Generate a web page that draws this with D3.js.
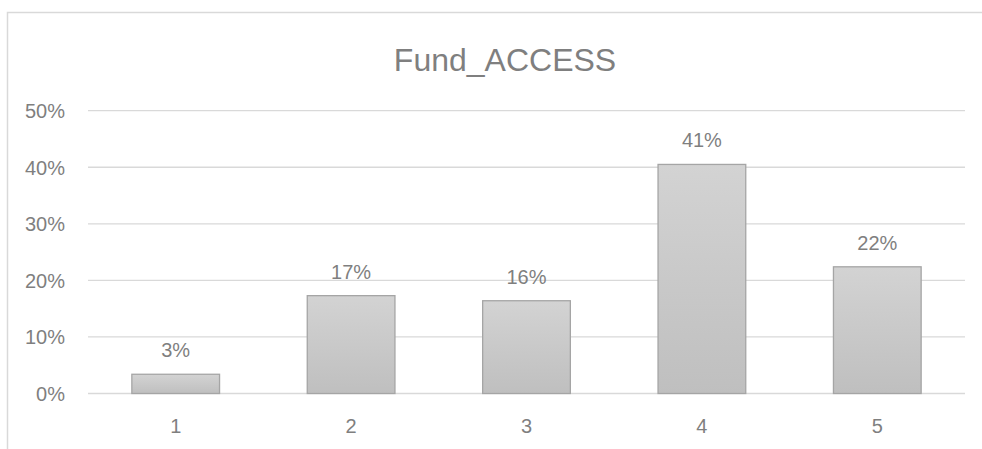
<!DOCTYPE html>
<html><head><meta charset="utf-8">
<script src="https://cdn.jsdelivr.net/npm/d3@7"></script>
<style>body{margin:0;background:#fff}svg{display:block}</style>
</head><body>
<svg id="c" width="982" height="449"></svg>
<script>
const title = "Fund_ACCESS";
const categories = ["1","2","3","4","5"];
const values = [0.034, 0.173, 0.164, 0.405, 0.224];
const labels = ["3%","17%","16%","41%","22%"];
const yTicks = [0, 0.1, 0.2, 0.3, 0.4, 0.5];

const svg = d3.select("#c");
const font = "'Liberation Sans', Arial, sans-serif";
const txt = "#7f7f7f";

const defs = svg.append("defs");
const g = defs.append("linearGradient").attr("id","bg").attr("x1",0).attr("y1",0).attr("x2",0).attr("y2",1);
g.append("stop").attr("offset","0%").attr("stop-color","#d3d3d3");
g.append("stop").attr("offset","100%").attr("stop-color","#bfbfbf");

// chart border
svg.append("rect").attr("x",7.5).attr("y",12.5).attr("width",1000).attr("height",500)
  .attr("fill","#fff").attr("stroke","#d9d9d9").attr("stroke-width",1.5);

const x = d3.scaleBand().domain(categories).range([88,965]).paddingInner(0.5).paddingOuter(0.25);
const y = d3.scaleLinear().domain([0,0.5]).range([393.5,110.7]);

// gridlines
svg.append("g").selectAll("line").data(yTicks).join("line")
  .attr("x1",88).attr("x2",965)
  .attr("y1",d=>y(d)).attr("y2",d=>y(d))
  .attr("stroke","#d9d9d9").attr("stroke-width",1.3);

// y axis labels
const yAxis = d3.axisLeft(y).tickValues(yTicks).tickFormat(d3.format(".0%")).tickSize(0).tickPadding(0);
const ya = svg.append("g").attr("transform","translate(65,0)").call(yAxis);
ya.select(".domain").remove();
ya.selectAll("text").attr("font-family",font).attr("font-size",20).attr("fill",txt).attr("dy","0.35em");

// bars
svg.append("g").selectAll("rect").data(values).join("rect")
  .attr("x",(d,i)=>x(categories[i]))
  .attr("width",x.bandwidth())
  .attr("y",d=>y(d))
  .attr("height",d=>y(0)-y(d))
  .attr("fill","url(#bg)").attr("stroke","#a5a5a5").attr("stroke-width",1.3);

// x axis labels
const xAxis = d3.axisBottom(x).tickSize(0).tickPadding(0);
const xa = svg.append("g").attr("transform","translate(0,432.7)").call(xAxis);
xa.select(".domain").remove();
xa.selectAll("text").attr("font-family",font).attr("font-size",20).attr("fill",txt).attr("dy",0);

// data labels
svg.append("g").selectAll("text").data(values).join("text")
  .attr("x",(d,i)=>x(categories[i])+x.bandwidth()/2)
  .attr("y",d=>y(d)-17)
  .attr("text-anchor","middle")
  .attr("font-family",font).attr("font-size",20).attr("fill",txt)
  .text((d,i)=>labels[i]);

// title
svg.append("text").attr("x",505).attr("y",71).attr("text-anchor","middle")
  .attr("font-family",font).attr("font-size",32).attr("fill",txt).text(title);
</script>
</body></html>
